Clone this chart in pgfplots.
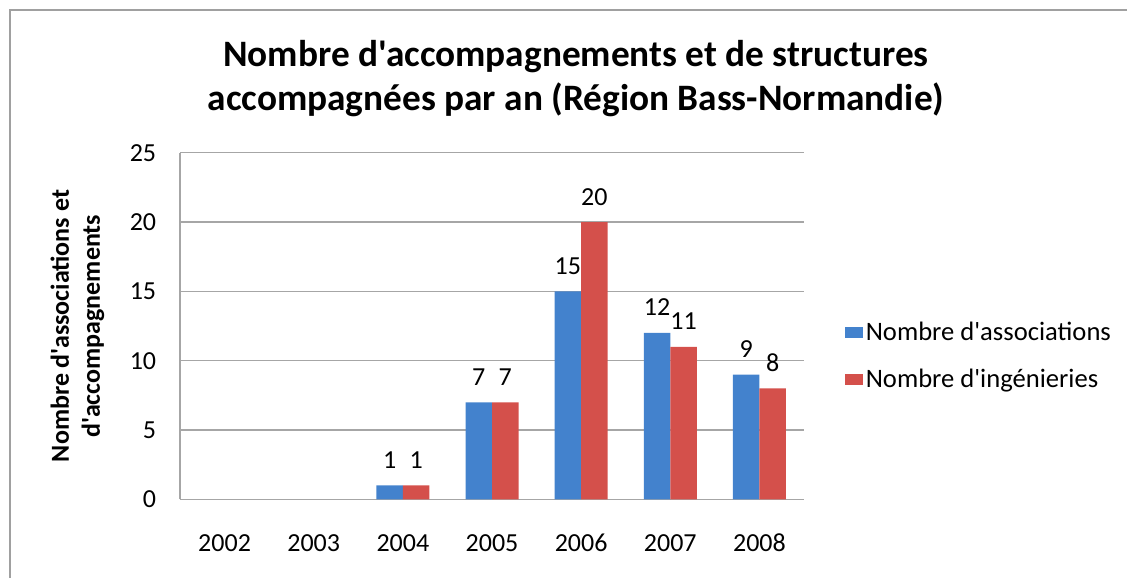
\documentclass[border=0pt]{standalone}
\usepackage{fontspec}
\setmainfont{Carlito}[Ligatures=TeXOff]
\usepackage{pgfplots}
\pgfplotsset{compat=1.18}
\definecolor{gridgray}{HTML}{A6A6A6}
\definecolor{bordergray}{HTML}{A0A0A0}
\definecolor{barblue}{HTML}{4382CD}
\definecolor{barred}{HTML}{D4504B}
\begin{document}
\begin{tikzpicture}
\useasboundingbox (0,0) rectangle (563.5pt,-289pt);
\draw[bordergray, line width=1pt] (5pt,-289pt) -- (5pt,-5pt) -- (563.5pt,-5pt);
\node[font=\fontsize{18.65}{22}\selectfont\bfseries, anchor=base, inner sep=0pt] at (288pt,-33.35pt) {Nombre d'accompagnements et de structures};
\node[font=\fontsize{18.65}{22}\selectfont\bfseries, anchor=base, inner sep=0pt] at (288pt,-55pt) {accompagnées par an (Région Bass-Normandie)};
\begin{axis}[
  at={(90pt,-249.65pt)}, anchor=south west,
  scale only axis, width=312pt, height=173.3pt,
  ybar=0pt, bar width=13.25pt,
  xmin=2001.5, xmax=2008.5, ymin=0, ymax=25,
  xtick={2002,2003,2004,2005,2006,2007,2008}, ytick={0,5,10,15,20,25},
  /pgf/number format/1000 sep={},
  /pgf/number format/assume math mode=true,
  axis lines*=left,
  axis line style={draw=gridgray, line width=0.7pt},
  ymajorgrids, grid style={draw=gridgray, line width=0.7pt},
  major tick length=0pt,
  tick label style={font=\fontsize{13}{15.5}\selectfont, black},
  xticklabel style={anchor=base, yshift=-26pt},
  yticklabel style={xshift=-8.4pt},
  ylabel={Nombre d'associations et\\d'accompagnements},
  every axis y label/.style={at={(rel axis cs:0,0.5)}, xshift=-51.25pt, rotate=90, anchor=center, align=center, font=\fontsize{13}{15.5}\selectfont\bfseries},
  nodes near coords,
  every node near coord/.append style={font=\fontsize{13}{15.5}\selectfont, anchor=base, yshift=8.5pt, black},
  legend style={draw=none, fill=none, at={(1,0.4135)}, anchor=west, xshift=20.5pt, inner sep=0pt, row sep=10.5pt, nodes={inner sep=1.2pt}, font=\fontsize{13.3}{15.5}\selectfont},
  legend cell align=left,
  legend image code/.code={\path[#1] (0pt,-2.75pt) rectangle (9pt,2.75pt);},
]
\addplot[draw=none, fill=barblue] coordinates {(2004,1) (2005,7) (2006,15) (2007,12) (2008,9)};
\addplot[draw=none, fill=barred] coordinates {(2004,1) (2005,7) (2006,20) (2007,11) (2008,8)};
\legend{Nombre d'associations, Nombre d'ingénieries}
\end{axis}
\end{tikzpicture}
\end{document}
